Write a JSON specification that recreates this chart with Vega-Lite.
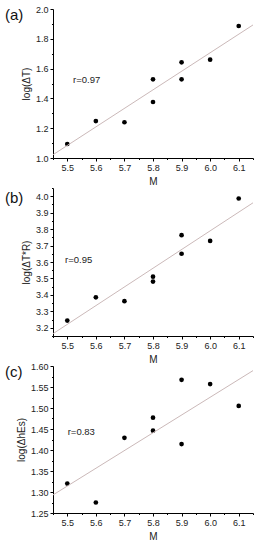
{
  "$schema": "https://vega.github.io/schema/vega-lite/v6.json",
  "background": "white",
  "padding": {"left": 5, "top": 5, "right": 5, "bottom": 5},
  "spacing": 30,
  "bounds": "flush",
  "config": {
    "view": {"stroke": null},
    "font": "Liberation Sans",
    "axis": {
      "grid": false,
      "ticks": true,
      "tickSize": 3,
      "domainColor": "#000",
      "tickColor": "#000",
      "domainWidth": 1,
      "tickWidth": 1,
      "labelFont": "Liberation Sans",
      "titleFont": "Liberation Sans",
      "labelFontSize": 9,
      "titleFontSize": 10,
      "titleFontWeight": "normal",
      "labelColor": "#222",
      "titleColor": "#222",
      "labelFlush": false,
      "labelOverlap": false,
      "labelPadding": 2
    },
    "title": {"font": "Liberation Sans", "fontSize": 15, "fontWeight": "normal", "color": "#111"}
  },
  "datasets": {
    "a": [
      {"M": 5.5, "v": 1.094}, {"M": 5.6, "v": 1.248}, {"M": 5.7, "v": 1.24},
      {"M": 5.8, "v": 1.528}, {"M": 5.8, "v": 1.376}, {"M": 5.9, "v": 1.642},
      {"M": 5.9, "v": 1.528}, {"M": 6.0, "v": 1.66}, {"M": 6.1, "v": 1.886}
    ],
    "b": [
      {"M": 5.5, "v": 3.244}, {"M": 5.6, "v": 3.385}, {"M": 5.7, "v": 3.362},
      {"M": 5.8, "v": 3.511}, {"M": 5.8, "v": 3.481}, {"M": 5.9, "v": 3.763},
      {"M": 5.9, "v": 3.65}, {"M": 6.0, "v": 3.728}, {"M": 6.1, "v": 3.986}
    ],
    "c": [
      {"M": 5.5, "v": 1.32}, {"M": 5.6, "v": 1.275}, {"M": 5.7, "v": 1.429},
      {"M": 5.8, "v": 1.477}, {"M": 5.8, "v": 1.446}, {"M": 5.9, "v": 1.567},
      {"M": 5.9, "v": 1.414}, {"M": 6.0, "v": 1.557}, {"M": 6.1, "v": 1.505}
    ]
  },
  "vconcat": [
    {
      "width": 200,
      "height": 149,
      "title": {"text": "(a)", "anchor": "start", "frame": "group", "dx": -48, "dy": 22},
      "resolve": {"axis": {"x": "independent", "y": "independent"}},
      "layer": [
        {
          "data": {"name": "a"},
          "mark": {"type": "circle", "size": 22, "color": "#000", "opacity": 1},
          "encoding": {
            "x": {"field": "M", "type": "quantitative", "title": "M",
              "scale": {"domain": [5.45, 6.15], "nice": false, "zero": false},
              "axis": {"orient": "bottom", "values": [5.5,5.6,5.7,5.8,5.9,6.0,6.1], "format": ".1f"}},
            "y": {"field": "v", "type": "quantitative", "title": "log(ΔT)",
              "scale": {"domain": [1.0, 2.0], "nice": false, "zero": false},
              "axis": {"orient": "left", "values": [1.0,1.2,1.4,1.6,1.8,2.0], "format": ".1f"}}
          }
        },
        {
          "data": {"name": "a"},
          "mark": {"type": "circle", "size": 22, "opacity": 0},
          "encoding": {
            "x": {"field": "M", "type": "quantitative",
              "axis": {"orient": "bottom", "title": null, "labels": false, "domain": false, "tickSize": 1.5,
                "values": [5.45,5.55,5.65,5.75,5.85,5.95,6.05,6.15]}},
            "y": {"field": "v", "type": "quantitative",
              "axis": {"orient": "left", "title": null, "labels": false, "domain": false, "tickSize": 1.5,
                "values": [1.1,1.3,1.5,1.7,1.9]}}
          }
        },
        {
          "data": {"values": [{"M": 5.45, "v": 1.022}, {"M": 6.15, "v": 1.893}]},
          "mark": {"type": "line", "color": "#cbb9b9", "strokeWidth": 1},
          "encoding": {"x": {"field": "M", "type": "quantitative", "axis": null}, "y": {"field": "v", "type": "quantitative", "axis": null}}
        },
        {
          "data": {"values": [{"M": 5.568, "v": 1.523, "t": "r=0.97"}]},
          "mark": {"type": "text", "fontSize": 9.5, "color": "#222", "align": "center", "baseline": "middle"},
          "encoding": {"x": {"field": "M", "type": "quantitative", "axis": null}, "y": {"field": "v", "type": "quantitative", "axis": null}, "text": {"field": "t"}}
        }
      ]
    },
    {
      "width": 200,
      "height": 148,
      "title": {"text": "(b)", "anchor": "start", "frame": "group", "dx": -48, "dy": 22},
      "resolve": {"axis": {"x": "independent", "y": "independent"}},
      "layer": [
        {
          "data": {"name": "b"},
          "mark": {"type": "circle", "size": 22, "color": "#000", "opacity": 1},
          "encoding": {
            "x": {"field": "M", "type": "quantitative", "title": "M",
              "scale": {"domain": [5.45, 6.15], "nice": false, "zero": false},
              "axis": {"orient": "bottom", "values": [5.5,5.6,5.7,5.8,5.9,6.0,6.1], "format": ".1f"}},
            "y": {"field": "v", "type": "quantitative", "title": "log(ΔT*R)",
              "scale": {"domain": [3.15, 4.05], "nice": false, "zero": false},
              "axis": {"orient": "left", "values": [3.2,3.3,3.4,3.5,3.6,3.7,3.8,3.9,4.0], "format": ".1f"}}
          }
        },
        {
          "data": {"name": "b"},
          "mark": {"type": "circle", "size": 22, "opacity": 0},
          "encoding": {
            "x": {"field": "M", "type": "quantitative",
              "axis": {"orient": "bottom", "title": null, "labels": false, "domain": false, "tickSize": 1.5,
                "values": [5.45,5.55,5.65,5.75,5.85,5.95,6.05,6.15]}},
            "y": {"field": "v", "type": "quantitative",
              "axis": {"orient": "left", "title": null, "labels": false, "domain": false, "tickSize": 1.5,
                "values": [3.15,3.25,3.35,3.45,3.55,3.65,3.75,3.85,3.95,4.05]}}
          }
        },
        {
          "data": {"values": [{"M": 5.45, "v": 3.164}, {"M": 6.15, "v": 3.96}]},
          "mark": {"type": "line", "color": "#cbb9b9", "strokeWidth": 1},
          "encoding": {"x": {"field": "M", "type": "quantitative", "axis": null}, "y": {"field": "v", "type": "quantitative", "axis": null}}
        },
        {
          "data": {"values": [{"M": 5.54, "v": 3.61, "t": "r=0.95"}]},
          "mark": {"type": "text", "fontSize": 9.5, "color": "#222", "align": "center", "baseline": "middle"},
          "encoding": {"x": {"field": "M", "type": "quantitative", "axis": null}, "y": {"field": "v", "type": "quantitative", "axis": null}, "text": {"field": "t"}}
        }
      ]
    },
    {
      "width": 200,
      "height": 147,
      "title": {"text": "(c)", "anchor": "start", "frame": "group", "dx": -48, "dy": 22},
      "resolve": {"axis": {"x": "independent", "y": "independent"}},
      "layer": [
        {
          "data": {"name": "c"},
          "mark": {"type": "circle", "size": 22, "color": "#000", "opacity": 1},
          "encoding": {
            "x": {"field": "M", "type": "quantitative", "title": "M",
              "scale": {"domain": [5.45, 6.15], "nice": false, "zero": false},
              "axis": {"orient": "bottom", "values": [5.5,5.6,5.7,5.8,5.9,6.0,6.1], "format": ".1f"}},
            "y": {"field": "v", "type": "quantitative", "title": "log(ΔhEs)",
              "scale": {"domain": [1.25, 1.6], "nice": false, "zero": false},
              "axis": {"orient": "left", "values": [1.25,1.3,1.35,1.4,1.45,1.5,1.55,1.6], "format": ".2f"}}
          }
        },
        {
          "data": {"name": "c"},
          "mark": {"type": "circle", "size": 22, "opacity": 0},
          "encoding": {
            "x": {"field": "M", "type": "quantitative",
              "axis": {"orient": "bottom", "title": null, "labels": false, "domain": false, "tickSize": 1.5,
                "values": [5.45,5.55,5.65,5.75,5.85,5.95,6.05,6.15]}},
            "y": {"field": "v", "type": "quantitative",
              "axis": {"orient": "left", "title": null, "labels": false, "domain": false, "tickSize": 1.5,
                "values": [1.275,1.325,1.375,1.425,1.475,1.525,1.575]}}
          }
        },
        {
          "data": {"values": [{"M": 5.45, "v": 1.293}, {"M": 6.15, "v": 1.589}]},
          "mark": {"type": "line", "color": "#cbb9b9", "strokeWidth": 1},
          "encoding": {"x": {"field": "M", "type": "quantitative", "axis": null}, "y": {"field": "v", "type": "quantitative", "axis": null}}
        },
        {
          "data": {"values": [{"M": 5.549, "v": 1.442, "t": "r=0.83"}]},
          "mark": {"type": "text", "fontSize": 9.5, "color": "#222", "align": "center", "baseline": "middle"},
          "encoding": {"x": {"field": "M", "type": "quantitative", "axis": null}, "y": {"field": "v", "type": "quantitative", "axis": null}, "text": {"field": "t"}}
        }
      ]
    }
  ]
}
